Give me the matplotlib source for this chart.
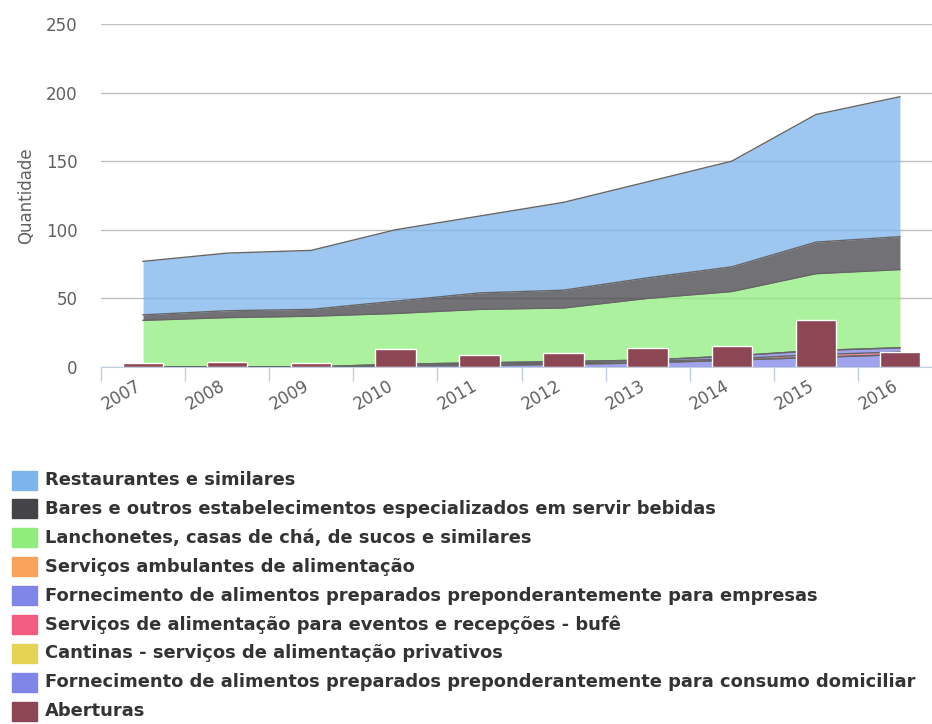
"""
Stacked area chart of food service establishments by type, with openings as columns
"""
import numpy as np
import matplotlib
matplotlib.use("Agg")
import matplotlib.pyplot as plt
import matplotlib.transforms as mtransforms
from matplotlib.patches import Rectangle

# Data
years = ["2007", "2008", "2009", "2010", "2011", "2012", "2013", "2014", "2015", "2016"]

restaurantes = [39, 42, 43, 52, 56, 64, 70, 77, 93, 102]
bares = [4, 5, 5, 9, 12, 13, 15, 18, 23, 24]
lanchonetes = [34, 36, 37, 37, 39, 39, 45, 47, 56, 57]
ambulantes = [0, 0, 0, 0, 0, 0, 0, 0, 0, 0]
empresas = [0, 0, 0, 1, 1, 1, 1, 2, 3, 3]
bufe = [0, 0, 0, 0, 1, 1, 1, 1, 2, 2]
cantinas = [0, 0, 0, 0, 0, 0, 0, 0, 0, 0]
domiciliar = [0, 0, 0, 1, 1, 2, 3, 5, 7, 9]
aberturas = [3, 4, 3, 13, 9, 10, 14, 15, 34, 11]

labels = [
    "Restaurantes e similares",
    "Bares e outros estabelecimentos especializados em servir bebidas",
    "Lanchonetes, casas de chá, de sucos e similares",
    "Serviços ambulantes de alimentação",
    "Fornecimento de alimentos preparados preponderantemente para empresas",
    "Serviços de alimentação para eventos e recepções - bufê",
    "Cantinas - serviços de alimentação privativos",
    "Fornecimento de alimentos preparados preponderantemente para consumo domiciliar",
    "Aberturas",
]
colors = ["#7cb5ec", "#434348", "#90ed7d", "#f7a35c", "#8085e9",
          "#f15c80", "#e4d354", "#8085e8", "#8d4653"]

# series in legend order; stacking puts the last area at the bottom
areas = [restaurantes, bares, lanchonetes, ambulantes, empresas, bufe, cantinas, domiciliar]

W, H = 932, 724
fig = plt.figure(figsize=(W / 100, H / 100), dpi=100)
left, right, top, bottom = 101, 942, 24, 367
ax = fig.add_axes([left / W, 1 - bottom / H, (right - left) / W, (bottom - top) / H])

x = np.arange(len(years))
base = np.zeros(len(years))
for i in range(len(areas) - 1, -1, -1):
    vals = np.array(areas[i], dtype=float)
    ax.fill_between(x, base, base + vals, color=colors[i], alpha=0.75, lw=0, zorder=2)
    ax.plot(x, base + vals, color="#666666", lw=1, zorder=3)
    base = base + vals

ax.bar(x, aberturas, width=0.48, color=colors[8], edgecolor="white", linewidth=1, zorder=4)

ax.set_xlim(-0.5, len(years) - 0.5)
ax.set_ylim(0, 250)
ax.set_yticks([0, 50, 100, 150, 200, 250])
ax.grid(axis="y", color="#C0C0C0", lw=1, zorder=0)
ax.set_axisbelow(True)

for s in ["top", "right", "left"]:
    ax.spines[s].set_visible(False)
ax.spines["bottom"].set_color("#C0D0E0")
ax.spines["bottom"].set_zorder(5)

ax.set_xticks(x)
ax.set_xticklabels(years, rotation=30, ha="right", va="top", rotation_mode="anchor")
ax.set_xticks(np.arange(-0.5, len(years)), minor=True)
ax.tick_params(axis="x", which="major", length=0, pad=7, labelsize=12, labelcolor="#606060")
ax.tick_params(axis="x", which="minor", length=10, color="#C0D0E0", width=1)
ax.tick_params(axis="y", length=0, pad=17, labelsize=12, labelcolor="#606060")
ax.set_ylabel("Quantidade", fontsize=12, color="#606060", labelpad=8)

# nudge rotated year labels to the left like the reference
shift = mtransforms.ScaledTranslation(-8 / 100, 0, fig.dpi_scale_trans)
for lab in ax.get_xticklabels():
    lab.set_transform(lab.get_transform() + shift)

# legend below the chart
row0, step = 480, 28.9
for i, (lab, col) in enumerate(zip(labels, colors)):
    yc = row0 + i * step
    fig.patches.append(Rectangle((12 / W, 1 - (yc + 9.5) / H), 25 / W, 19 / H,
                                 transform=fig.transFigure, color=col))
    fig.text(45 / W, 1 - yc / H, lab, fontsize=12.9, fontweight="bold",
             color="#333333", va="center", ha="left")

fig.savefig("out.png", dpi=100)
